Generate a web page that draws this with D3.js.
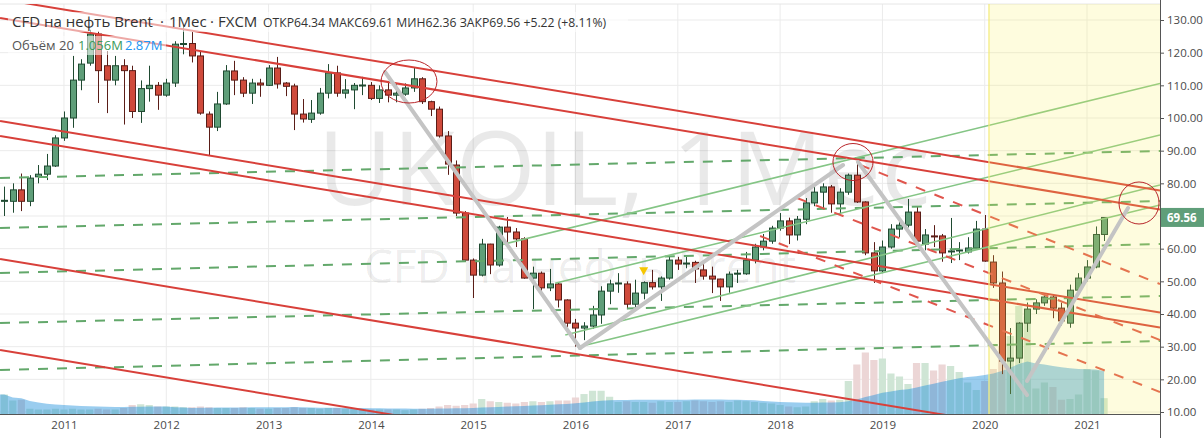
<!DOCTYPE html>
<html>
<head>
<meta charset="utf-8">
<script src="https://cdn.jsdelivr.net/npm/d3@7"></script>
<style>
body { margin: 0; background: #fff; }
svg { display: block; font-family: "Open Sans", "DejaVu Sans", sans-serif; }
</style>
</head>
<body>
<svg id="chart" width="1204" height="438"></svg>
<script>
// monthly candles, index 0 = June 2010, last = March 2021 (still forming)
const firstMonth = new Date(2010, 5, 1);

const open = [74.5, 74.5, 78.0, 74.5, 82.0, 82.8, 85.3,
  93.9, 100.0, 111.6, 116.8, 125.7, 116.0, 111.6, 116.0, 114.5, 102.0, 109.0, 110.0,
  107.0, 110.7, 122.6, 122.8, 119.0, 101.2, 97.2, 104.3, 114.4, 111.6, 107.6, 110.7,
  110.0, 115.3, 110.7, 109.8, 101.2, 99.6, 101.5, 107.6, 113.8, 107.6, 108.6, 110.0,
  110.0, 106.0, 108.6, 107.0, 107.3, 109.2, 112.0, 105.0, 102.7, 94.5, 85.6, 70.9,
  56.5, 51.9, 61.4, 55.0, 66.6, 65.1, 63.0, 51.0, 52.5, 48.0, 49.2, 44.3,
  37.2, 35.7, 36.3, 39.7, 47.0, 49.2, 49.2, 43.0, 46.4, 49.6, 48.3, 51.0,
  56.5, 55.3, 55.8, 53.5, 51.6, 50.7, 48.3, 52.3, 52.3, 56.5, 60.5, 62.3,
  66.3, 68.5, 64.2, 69.0, 74.0, 77.3, 78.9, 73.7, 77.3, 82.5, 74.3, 58.7,
  53.2, 60.5, 66.0, 67.2, 71.2, 61.4, 63.9, 63.9, 59.0, 59.3, 59.0, 60.2,
  66.0, 55.9, 49.5, 25.6, 26.5, 37.2, 41.5, 43.4, 45.2, 41.8, 37.2, 47.3,
  51.0, 54.4, 64.34];

const high = [79.0, 80.0, 83.0, 82.5, 85.6, 89.0, 94.7,
  102.0, 119.0, 118.0, 127.0, 126.5, 120.5, 119.0, 118.0, 116.0, 111.5, 116.0, 111.0,
  112.0, 123.5, 128.4, 126.3, 120.3, 102.0, 108.0, 116.2, 117.5, 112.5, 112.0, 112.0,
  116.2, 118.7, 111.0, 110.5, 105.8, 105.5, 109.2, 116.5, 116.0, 111.9, 110.7, 112.6,
  111.0, 110.0, 110.7, 110.5, 110.6, 115.3, 112.5, 105.3, 103.5, 96.0, 87.0, 71.5,
  57.0, 63.0, 61.5, 67.0, 69.7, 66.3, 63.5, 54.5, 53.0, 53.8, 49.5, 44.5,
  38.5, 37.5, 42.5, 48.5, 50.5, 52.5, 50.0, 50.5, 50.0, 53.5, 51.5, 58.0,
  57.5, 57.5, 56.3, 56.0, 54.5, 50.8, 53.0, 53.5, 59.0, 61.5, 64.5, 67.0,
  70.9, 69.5, 70.0, 75.5, 79.8, 80.0, 79.5, 78.5, 83.0, 86.8, 74.5, 62.0,
  62.5, 67.5, 68.5, 75.2, 73.0, 66.0, 67.2, 64.5, 69.4, 62.0, 63.5, 68.5,
  70.3, 58.0, 53.0, 35.7, 37.5, 43.5, 44.5, 46.2, 46.0, 43.5, 49.0, 52.5,
  56.5, 66.8, 69.61];

const low = [70.0, 71.0, 71.5, 73.0, 80.0, 81.0, 85.0,
  93.0, 97.0, 108.5, 116.0, 104.6, 101.5, 110.0, 98.0, 100.0, 98.5, 105.0, 102.5,
  106.5, 109.5, 119.5, 117.0, 101.0, 88.4, 96.0, 104.0, 107.0, 106.4, 104.3, 106.5,
  109.8, 109.0, 106.7, 96.3, 98.6, 98.5, 101.0, 106.0, 106.5, 106.0, 102.7, 107.0,
  105.5, 104.6, 104.8, 104.8, 106.8, 108.0, 104.3, 100.6, 94.0, 82.6, 70.0, 56.0,
  44.9, 51.5, 52.2, 54.5, 61.5, 60.5, 50.8, 41.5, 46.5, 47.0, 42.0, 36.0,
  30.0, 32.0, 35.5, 37.0, 43.0, 46.5, 41.5, 41.5, 44.5, 47.5, 44.0, 50.5,
  53.5, 54.0, 49.5, 50.5, 46.4, 44.0, 46.5, 49.5, 52.0, 55.5, 59.5, 61.5,
  65.5, 61.4, 62.5, 67.5, 73.0, 72.0, 71.0, 70.5, 76.5, 74.0, 58.0, 49.5,
  52.5, 60.0, 63.5, 66.5, 61.5, 59.5, 60.5, 56.0, 55.6, 56.5, 58.5, 60.0,
  56.0, 48.0, 21.6, 15.5, 25.0, 34.5, 40.0, 42.5, 38.7, 36.5, 35.8, 46.5,
  50.0, 54.0, 62.36];

const close = [74.8, 78.0, 74.5, 81.6, 82.8, 85.3, 93.9,
  100.0, 111.6, 116.5, 125.7, 114.5, 111.6, 116.0, 114.5, 102.0, 109.0, 110.0, 107.0,
  110.7, 122.6, 122.8, 119.0, 101.5, 97.2, 104.3, 114.4, 111.6, 107.6, 110.7, 110.1,
  115.3, 110.4, 109.7, 101.2, 99.7, 101.5, 107.6, 113.8, 107.6, 108.6, 110.0, 110.1,
  106.0, 108.6, 107.0, 107.6, 109.2, 112.0, 105.0, 102.7, 94.5, 85.9, 70.9, 56.5,
  51.9, 61.4, 55.0, 66.6, 65.1, 63.0, 51.0, 52.5, 48.0, 49.2, 44.3, 37.2,
  35.7, 36.3, 39.7, 47.0, 49.2, 49.5, 43.0, 46.4, 49.6, 48.3, 51.0, 56.5,
  55.3, 55.6, 53.8, 51.6, 50.7, 48.3, 52.2, 52.5, 56.5, 60.5, 62.3, 66.3,
  68.5, 64.2, 69.0, 74.0, 77.3, 78.9, 73.7, 77.3, 82.5, 74.3, 58.7, 53.2,
  60.5, 66.0, 67.2, 71.2, 62.3, 64.2, 63.6, 58.7, 59.3, 59.6, 60.2, 66.0,
  56.2, 49.5, 25.6, 26.5, 37.2, 41.5, 43.4, 45.2, 41.8, 37.9, 47.3, 51.0,
  54.4, 64.34, 69.56];

// volume, millions
const volume = [1.3, 0.9, 0.95, 0.35, 0.3, 0.3, 0.35,
  0.3, 0.35, 0.3, 0.3, 0.35, 0.3, 0.3, 0.4, 0.6, 0.65, 0.6, 0.5,
  0.5, 0.5, 0.45, 0.45, 0.5, 0.45, 0.4, 0.4, 0.4, 0.45, 0.4, 0.35,
  0.35, 0.4, 0.4, 0.45, 0.4, 0.4, 0.35, 0.4, 0.4, 0.35, 0.35, 0.3,
  0.3, 0.3, 0.3, 0.3, 0.25, 0.3, 0.35, 0.4, 0.5, 0.6, 0.55, 0.6,
  0.7, 1.0, 0.85, 0.8, 0.75, 0.7, 0.8, 0.85, 0.8, 0.85, 0.9, 0.9,
  1.1, 1.33, 1.55, 1.55, 1.15, 0.8, 0.85, 0.8, 0.8, 0.75, 0.85, 0.8,
  0.8, 0.85, 0.9, 0.85, 0.8, 0.85, 0.8, 0.9, 0.85, 0.8, 0.75, 0.7,
  0.6, 0.5, 0.45, 0.5, 0.85, 1.0, 0.9, 0.95, 2.2, 3.3, 4.1, 3.6,
  3.7, 2.7, 2.5, 2.0, 3.4, 3.4, 2.9, 3.3, 3.2, 2.8, 2.1, 1.6,
  2.2, 3.0, 4.5, 5.2, 7.2, 6.5, 1.7, 2.1, 1.8, 0.95, 1.0, 1.3,
  3.0, 2.9, 1.056];

const priceTicks = [10, 20, 30, 40, 50, 60, 70, 80, 90, 100, 110, 120, 130];
const yearTicks = [2011, 2012, 2013, 2014, 2015, 2016, 2017, 2018, 2019, 2020, 2021];

// drawings, [month index, price, month index, price]
const redChannel = [
  [-0.5, 136.43, 135.56, 77.84],
  [-0.5, 130.62, 135.56, 72.02],
  [-0.5, 99.08, 135.56, 40.49],
  [-0.5, 94.49, 135.56, 35.90],
  [-0.5, 56.84, 135.56, -1.75],
  [-0.5, 28.98, 135.56, -29.6]
];
const greenLevels = [
  [-0.5, 81.63, 135.56, 89.90],
  [-0.5, 66.33, 135.56, 74.59],
  [-0.5, 52.55, 135.56, 61.43],
  [-0.5, 37.24, 135.56, 45.51],
  [-0.5, 22.86, 135.56, 31.73]
];
const greenChannel = [
  [58.50, 61.31, 135.56, 110.59],
  [64.60, 49.43, 135.56, 94.80],
  [65.80, 33.60, 135.56, 79.49],
  [67.30, 29.90, 135.56, 73.37]
];
const redFan = [
  [100.38, 85.61, 135.56, 49.18],
  [92.98, 75.51, 135.56, 32.04],
  [88.65, 63.88, 135.56, 16.12]
];
const zigzag = [
  [44.66, 114.08, 67.53, 29.59],
  [67.53, 29.59, 98.38, 85.61],
  [100.14, 86.53, 119.96, 15.20],
  [119.96, 19.49, 131.81, 72.45]
];
// [month index, price, radius in months, radius in price]
const rings = [
  [47.47, 111.17, 3.28, 6.58],
  [99.55, 86.53, 2.35, 5.66],
  [133.1, 73.98, 2.35, 6.43]
];
const zoneStart = 115.5;
const eventMonth = 75, eventPrice = 51.9;

const svg = d3.select("#chart");
const plotRight = 1160, plotTop = 4, plotBottom = 414;

const x = d3.scaleLinear().domain([-0.504, 135.56]).range([0, plotRight]);
const y = d3.scaleLinear().domain([10, 130]).range([412, 20]);
const vy = d3.scaleLinear().domain([0, 10]).range([plotBottom, plotBottom - 150]);

const months = close.map((c, i) => d3.timeMonth.offset(firstMonth, i));
const janIdx = yearTicks.map(yr => months.findIndex(m => m.getFullYear() === yr && m.getMonth() === 0));

svg.append("defs").append("clipPath").attr("id", "plotclip")
  .append("rect").attr("x", 0).attr("y", plotTop).attr("width", plotRight).attr("height", plotBottom - plotTop);

// grid
const grid = svg.append("g");
grid.selectAll(".hg").data(priceTicks).join("line")
  .attr("x1", 0).attr("x2", plotRight).attr("y1", d => y(d)).attr("y2", d => y(d))
  .attr("stroke", "#ebebeb");
grid.selectAll(".vg").data(janIdx).join("line")
  .attr("x1", d => x(d)).attr("x2", d => x(d)).attr("y1", plotTop).attr("y2", plotBottom)
  .attr("stroke", "#ebebeb");
grid.append("line").attr("x1", 0).attr("x2", plotRight).attr("y1", plotTop).attr("y2", plotTop)
  .attr("stroke", "#e6e6e6");

// watermark
svg.append("text").attr("x", 624).attr("y", 205).attr("text-anchor", "middle")
  .style("font-size", "103px").attr("fill", "#000").attr("fill-opacity", 0.085)
  .text("UKOIL, 1Мес");
svg.append("text").attr("x", 580).attr("y", 283).attr("text-anchor", "middle")
  .style("font-size", "46px").attr("fill", "#000").attr("fill-opacity", 0.085)
  .text("CFD на нефть Brent");

const plot = svg.append("g").attr("clip-path", "url(#plotclip)");

// volume bars, then the 20 month average as an area over them
const bars = close.map((c, i) => ({i, v: volume[i], up: c >= open[i]}));
plot.append("g").selectAll("rect").data(bars).join("rect")
  .attr("x", d => x(d.i) - 3.6).attr("width", 7.2)
  .attr("y", d => vy(d.v)).attr("height", d => plotBottom - vy(d.v))
  .attr("fill", d => d.up ? "#cfe5d5" : "#ecd6d6");

const ma = volume.map((v, i) => d3.mean(volume.slice(Math.max(0, i - 19), i + 1)));
plot.append("path")
  .attr("fill", "rgb(30,144,220)").attr("fill-opacity", 0.45)
  .attr("d", d3.area().x(d => x(d[0])).y0(plotBottom).y1(d => vy(d[1]))([[-0.504, ma[0]], ...ma.map((m, i) => [i, m])]));

// candles
const candles = close.map((c, i) => ({i, o: open[i], h: high[i], l: low[i], c}));
const cg = plot.append("g").selectAll("g").data(candles).join("g");
cg.append("line")
  .attr("x1", d => Math.round(x(d.i)) + 0.5).attr("x2", d => Math.round(x(d.i)) + 0.5)
  .attr("y1", d => y(d.h)).attr("y2", d => y(d.l))
  .attr("stroke", d => d.c >= d.o ? "#1f4a31" : "#5a1d17");
cg.append("rect")
  .attr("x", d => Math.round(x(d.i)) - 2.5).attr("width", 6)
  .attr("y", d => y(Math.max(d.o, d.c)))
  .attr("height", d => Math.max(1, Math.abs(y(d.o) - y(d.c))))
  .attr("fill", d => d.c >= d.o ? "#5f9e79" : "#cf4a3b")
  .attr("stroke", d => d.c >= d.o ? "#1f4a31" : "#5a1d17").attr("stroke-width", 1);

// event marker
plot.append("path")
  .attr("d", `M${x(eventMonth) - 4.5},${y(eventPrice) - 8}h9l-4.5,8z`)
  .attr("fill", "#f6c600");

// drawings
function drawLines(list, color, width, dash) {
  return plot.append("g").selectAll("line").data(list).join("line")
    .attr("x1", d => x(d[0])).attr("y1", d => y(d[1]))
    .attr("x2", d => x(d[2])).attr("y2", d => y(d[3]))
    .attr("stroke", color).attr("stroke-width", width)
    .attr("stroke-dasharray", dash);
}
drawLines(greenLevels, "#63a86b", 2, "10,9");
drawLines(greenChannel, "#84c585", 1.6, null);
drawLines(redChannel, "#d8403a", 2, null);
drawLines(redFan, "#e0564d", 2, "10,10");

// highlighted zone
plot.append("rect")
  .attr("x", x(zoneStart)).attr("width", plotRight - x(zoneStart))
  .attr("y", plotTop).attr("height", plotBottom - plotTop)
  .attr("fill", "rgb(248,238,90)").attr("fill-opacity", 0.2);
plot.append("line")
  .attr("x1", x(zoneStart)).attr("x2", x(zoneStart)).attr("y1", plotTop).attr("y2", plotBottom)
  .attr("stroke", "#f3ea7a").attr("stroke-width", 1.2);

drawLines(zigzag, "#c4c4c4", 4, null).attr("stroke-linecap", "round");

plot.append("g").selectAll("ellipse").data(rings).join("ellipse")
  .attr("cx", d => x(d[0])).attr("cy", d => y(d[1]))
  .attr("rx", d => x(d[0] + d[2]) - x(d[0])).attr("ry", d => y(d[1] - d[3]) - y(d[1]))
  .attr("fill", "none").attr("stroke", "#b8262a").attr("stroke-width", 1);

// axes
svg.append("rect").attr("x", plotRight).attr("y", 0).attr("width", 44).attr("height", 438).attr("fill", "#fff");
const yAxis = svg.append("g").attr("transform", `translate(${plotRight},0)`)
  .call(d3.axisRight(y).tickValues(priceTicks).tickFormat(d3.format(".2f")).tickSize(4).tickPadding(3));
yAxis.select(".domain").remove();
yAxis.selectAll("line").attr("stroke", "#555");
yAxis.selectAll("text").attr("fill", "#4a4a4a").style("font-size", "11.5px")
  .style("font-family", '"Open Sans", sans-serif');

const xAxis = svg.append("g").attr("transform", `translate(0,${plotBottom})`)
  .call(d3.axisBottom(x).tickValues(janIdx).tickFormat((d, k) => yearTicks[k]).tickSize(0).tickPadding(7));
xAxis.select(".domain").remove();
xAxis.selectAll("text").attr("fill", "#4a4a4a").style("font-size", "11.5px")
  .style("font-family", '"Open Sans", sans-serif');

svg.append("line").attr("x1", 0).attr("x2", plotRight).attr("y1", plotBottom + 0.5).attr("y2", plotBottom + 0.5)
  .attr("stroke", "#555");
svg.append("line").attr("x1", plotRight + 0.5).attr("x2", plotRight + 0.5).attr("y1", 0).attr("y2", 438)
  .attr("stroke", "#555");

// last price label
const last = close[close.length - 1];
svg.append("rect").attr("x", plotRight + 1).attr("y", y(last) - 9.5).attr("width", 43).attr("height", 19)
  .attr("fill", "#5f9e79");
svg.append("text").attr("x", plotRight + 7).attr("y", y(last) + 4.2)
  .attr("fill", "#fff").style("font-size", "11.5px").style("font-weight", "bold")
  .text(d3.format(".2f")(last));

// legend
svg.append("rect").attr("x", 8).attr("y", 12).attr("width", 620).attr("height", 20)
  .attr("fill", "#fff").attr("fill-opacity", 0.55);
svg.append("rect").attr("x", 8).attr("y", 36).attr("width", 158).attr("height", 19)
  .attr("fill", "#fff").attr("fill-opacity", 0.55);

const title = svg.append("g").attr("fill", "#333");
title.append("text").attr("x", 12).attr("y", 26.5).style("font-size", "15px").text("CFD на нефть Brent");
title.append("text").attr("x", 160).attr("y", 26.5).style("font-size", "15px").text("·");
title.append("text").attr("x", 169).attr("y", 26.5).style("font-size", "15px").text("1Мес");
title.append("text").attr("x", 210).attr("y", 26.5).style("font-size", "15px").text("·");
title.append("text").attr("x", 218).attr("y", 26.5).style("font-size", "15px").text("FXCM");

const lastIdx = close.length - 1;
const chg = close[lastIdx] - close[lastIdx - 1];
const ohlc = `ОТКР${open[lastIdx].toFixed(2)} МАКС${high[lastIdx].toFixed(2)} МИН${low[lastIdx].toFixed(2)} ЗАКР${close[lastIdx].toFixed(2)} +${chg.toFixed(2)} (+${(chg / close[lastIdx - 1] * 100).toFixed(2)}%)`;
title.append("text").attr("x", 263).attr("y", 26.5).style("font-size", "12.2px").text(ohlc);

const vol = svg.append("g").style("font-size", "13px");
vol.append("text").attr("x", 12).attr("y", 50).attr("fill", "#555").text("Объём 20");
vol.append("text").attr("x", 78).attr("y", 50).attr("fill", "#3c9a5a").text(volume[lastIdx].toFixed(3) + "M");
vol.append("text").attr("x", 125).attr("y", 50).attr("fill", "#2196f3").text(ma[lastIdx].toFixed(2) + "M");
</script>
</body>
</html>
